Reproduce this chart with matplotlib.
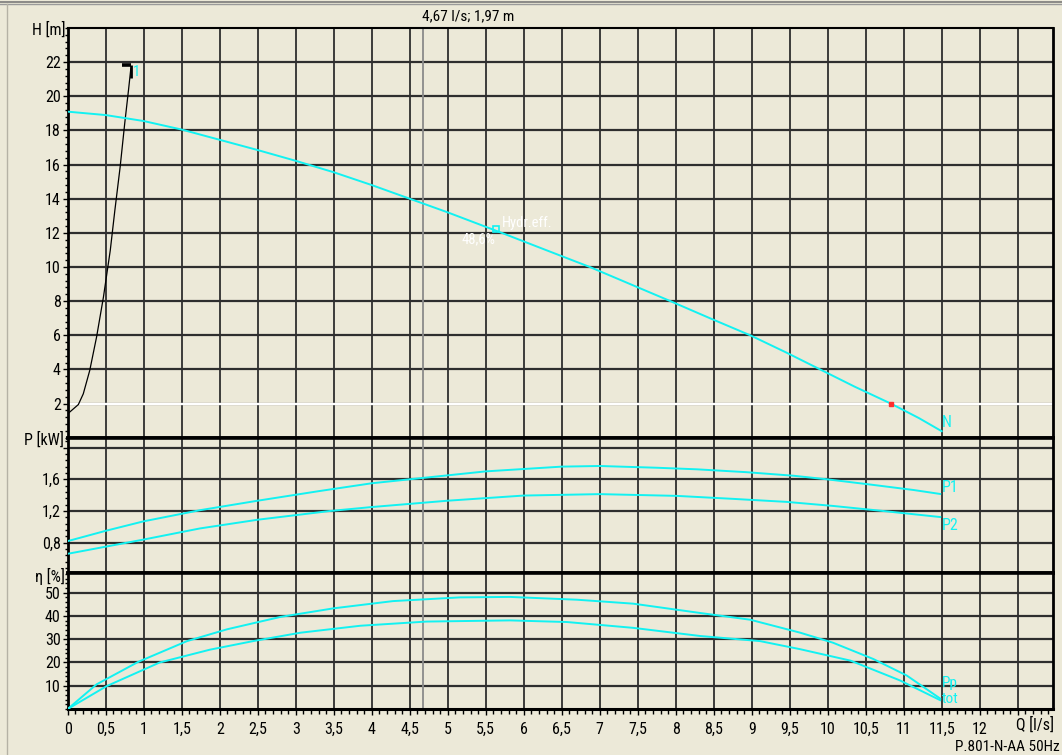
import matplotlib
matplotlib.use('Agg')
import matplotlib.pyplot as plt
from matplotlib.ticker import FixedLocator, MultipleLocator, FuncFormatter
from matplotlib import font_manager

# ---------------- data ----------------
q_head = [0.0, 0.5, 1.0, 1.5, 2.0, 2.5, 3.0, 3.5, 4.0, 4.5, 5.0, 5.71, 6.3, 6.87,
          7.4, 7.93, 8.45, 8.98, 9.45, 9.9, 10.35, 10.83, 11.2, 11.5]
head = [19.1, 18.9, 18.55, 18.05, 17.45, 16.85, 16.22, 15.55, 14.8, 14.0, 13.2, 12.0,
        10.98, 10.0, 9.0, 8.0, 7.0, 6.0, 5.0, 4.0, 3.0, 2.0, 1.15, 0.38]

q_sys = [0.0, 0.14, 0.205, 0.29, 0.38, 0.47, 0.56, 0.62, 0.69, 0.75, 0.80, 0.83]
h_sys = [1.40, 1.94, 2.57, 3.94, 5.9, 8.23, 10.97, 13.3, 15.86, 18.4, 20.36, 21.6]

q_p1 = [0.0, 0.5, 1.0, 1.74, 2.5, 3.3, 4.0, 4.5, 5.5, 6.5, 7.0, 7.75, 8.28, 8.93,
        9.55, 9.99, 10.51, 11.13, 11.48]
p1 = [0.82, 0.95, 1.07, 1.21, 1.33, 1.45, 1.55, 1.60, 1.70, 1.76, 1.768, 1.746,
      1.726, 1.69, 1.645, 1.60, 1.54, 1.465, 1.415]

q_p2 = [0.0, 0.5, 1.0, 1.74, 2.5, 3.45, 4.0, 5.0, 6.0, 7.0, 8.01, 8.76, 9.46,
        10.07, 10.73, 11.48]
p2 = [0.66, 0.75, 0.84, 0.98, 1.09, 1.20, 1.25, 1.33, 1.395, 1.413, 1.391, 1.353,
      1.315, 1.264, 1.20, 1.124]

q_pp = [0.0, 0.38, 0.93, 1.57, 2.1, 2.8, 3.5, 4.28, 5.16, 5.82, 6.70, 7.44, 8.32,
        8.98, 9.64, 10.07, 10.6, 11.04, 11.48]
eta_pp = [0.0, 10.6, 20.3, 29.2, 34.3, 39.6, 43.3, 46.4, 48.0, 48.2, 47.0, 45.3,
          41.3, 38.4, 32.8, 28.5, 21.5, 14.4, 4.5]

q_tot = [0.0, 0.51, 1.21, 1.87, 2.44, 3.06, 3.85, 4.72, 5.82, 6.57, 7.44, 8.32,
         9.11, 9.64, 10.3, 10.95, 11.48]
eta_tot = [0.0, 9.8, 20.0, 25.5, 29.2, 32.8, 35.8, 37.6, 38.1, 37.4, 34.9, 31.4,
           29.2, 25.7, 20.8, 12.3, 3.8]

cursor_q = 4.67
cursor_h = 1.97
duty_q = 5.64
duty_h = 12.24
duty_eff = "48,6%"
cross_q = 10.83

x_ticks = [0, 0.5, 1, 1.5, 2, 2.5, 3, 3.5, 4, 4.5, 5, 5.5, 6, 6.5, 7, 7.5, 8, 8.5,
           9, 9.5, 10, 10.5, 11, 11.5, 12, 12.5]
h_ticks = [2, 4, 6, 8, 10, 12, 14, 16, 18, 20, 22]
p_ticks = [0.8, 1.2, 1.6, 2.0]
eta_ticks = [10, 20, 30, 40, 50]

# ---------------- font ----------------
ttf = font_manager.fontManager.ttflist
names = {f.name for f in ttf}
FAM, STRETCH = 'Liberation Sans', 'normal'
for cand in ['Liberation Sans Narrow', 'Arial Narrow', 'Roboto Condensed',
             'Open Sans Condensed', 'DejaVu Sans Condensed']:
    if cand in names:
        FAM, STRETCH = cand, 'normal'
        break
else:
    for f in ttf:
        st = f.stretch if isinstance(f.stretch, str) else str(f.stretch)
        if f.style == 'normal' and st in ('condensed', 'semi-condensed', '75', '87.5') \
                and f.name in ('DejaVu Sans', 'Roboto', 'Open Sans', 'Noto Sans', 'Lato', 'Inter'):
            FAM, STRETCH = f.name, 'condensed'
            break
plt.rcParams['font.family'] = [FAM, 'DejaVu Sans']
plt.rcParams['font.stretch'] = STRETCH
NARROW = FAM != 'Liberation Sans'
FS = 11.5 if NARROW else 10.5

BG = '#ECE9D8'
CY = '#12F2F2'
GRID = '#2e2e2e'
W, H = 1062, 755

fig = plt.figure(figsize=(W / 100, H / 100), dpi=100, facecolor=BG)


def box(top, bottom):
    left, right = 67.7, 1053
    return [left / W, 1 - bottom / H, (right - left) / W, (bottom - top) / H]


ax_h = fig.add_axes(box(28, 437.7))
ax_p = fig.add_axes(box(437.7, 572.5))
ax_e = fig.add_axes(box(572.5, 709))

XMAX = (1053 - 67.7) / 76.0


def comma(v, pos=None):
    return ('%g' % v).replace('.', ',')


for ax in (ax_h, ax_p, ax_e):
    ax.set_facecolor(BG)
    ax.set_xlim(0, XMAX)
    ax.set_axisbelow(True)
    ax.xaxis.set_major_locator(FixedLocator(x_ticks))
    ax.xaxis.set_minor_locator(MultipleLocator(0.1))
    ax.grid(True, axis='x', which='major', color=GRID, lw=1.3)
    ax.grid(True, axis='y', which='major', color=GRID, lw=1.6)
    for s in ax.spines.values():
        s.set_color('black')
    ax.spines['left'].set_linewidth(2.0)
    ax.spines['right'].set_linewidth(2.0)
    ax.tick_params(axis='y', which='major', direction='out', length=3.5, width=1,
                   pad=1.5, labelsize=FS)
    ax.tick_params(axis='y', which='minor', direction='out', length=2.2, width=1)
    ax.axvline(cursor_q, color='#8a8a8a', lw=1.3, zorder=1.5)

for ax in (ax_h, ax_p):
    ax.tick_params(axis='x', which='both', bottom=False, labelbottom=False)

ax_e.tick_params(axis='x', which='major', direction='out', length=4, width=1,
                 pad=5, labelsize=FS)
ax_e.tick_params(axis='x', which='minor', direction='out', length=3.5, width=1)
ax_e.xaxis.set_major_formatter(FuncFormatter(lambda v, p: '' if v > 12.2 else comma(v)))

# --- H panel ---
ax_h.set_ylim(0, 24)
ax_h.yaxis.set_major_locator(FixedLocator(h_ticks))
ax_h.yaxis.set_minor_locator(MultipleLocator(0.4))
ax_h.yaxis.set_major_formatter(FuncFormatter(comma))
ax_h.spines['top'].set_linewidth(1.5)
ax_h.spines['bottom'].set_linewidth(2.6)

ax_h.axhline(cursor_h, color='white', lw=1.7, zorder=2)
ax_h.plot(q_sys, h_sys, color='black', lw=0.9, zorder=3)
ax_h.plot([0.71, 0.835], [21.85, 21.85], color='black', lw=2.6, solid_capstyle='butt', zorder=3)
ax_h.plot([0.83, 0.83], [21.85, 21.1], color='black', lw=2.0, solid_capstyle='butt', zorder=3)
ax_h.text(0.86, 21.4, '1', color=CY, fontsize=FS - 1, ha='left', va='center')

ax_h.plot(q_head, head, color=CY, lw=1.4, zorder=4)
ax_h.plot([cross_q], [cursor_h], marker='s', ms=2.5, color='#ff3030', mec='#ff3030', zorder=5)
ax_h.plot([duty_q], [duty_h], marker='s', ms=4, mfc='none', mec=CY, mew=1.2, zorder=5)
ax_h.text(duty_q + 0.07, 12.6, 'Hydr.eff.', color='white', fontsize=FS - 1, ha='left', va='center')
ax_h.text(duty_q - 0.01, 11.65, duty_eff, color='white', fontsize=FS - 1, ha='right', va='center')
ax_h.text(11.5, 0.9, 'N', color=CY, fontsize=FS, ha='left', va='center')

# --- P panel ---
ax_p.set_ylim(0.424, 2.125)
ax_p.yaxis.set_major_locator(FixedLocator(p_ticks))
ax_p.yaxis.set_minor_locator(MultipleLocator(0.08))
ax_p.yaxis.set_major_formatter(FuncFormatter(lambda v, p: '' if v > 1.9 else comma(v)))
ax_p.spines['top'].set_linewidth(2.6)
ax_p.spines['bottom'].set_linewidth(2.6)
ax_p.plot(q_p1, p1, color=CY, lw=1.4, zorder=4)
ax_p.plot(q_p2, p2, color=CY, lw=1.4, zorder=4)
ax_p.text(11.5, 1.50, 'P1', color=CY, fontsize=FS, ha='left', va='center')
ax_p.text(11.5, 1.02, 'P2', color=CY, fontsize=FS, ha='left', va='center')

# --- eta panel ---
ax_e.set_ylim(0, 58.7)
ax_e.yaxis.set_major_locator(FixedLocator(eta_ticks))
ax_e.yaxis.set_minor_locator(MultipleLocator(2))
ax_e.yaxis.set_major_formatter(FuncFormatter(comma))
ax_e.spines['top'].set_linewidth(2.6)
ax_e.spines['bottom'].set_linewidth(2.2)
ax_e.plot(q_pp, eta_pp, color=CY, lw=1.4, zorder=4)
ax_e.plot(q_tot, eta_tot, color=CY, lw=1.4, zorder=4)
ax_e.text(11.5, 11.2, 'Pp', color=CY, fontsize=FS - 0.5, ha='left', va='center')
ax_e.text(11.5, 4.3, 'tot', color=CY, fontsize=FS - 0.5, ha='left', va='center')


# --- figure texts ---
def ftext(x, y, s, **kw):
    fig.text(x / W, 1 - y / H, s, **kw)


ftext(65, 30, 'H [m]', ha='right', va='center', fontsize=FS)
ftext(64, 440, 'P [kW]', ha='right', va='center', fontsize=FS)
ftext(65, 576, 'η [%]', ha='right', va='center', fontsize=FS)
ftext(1054, 725, 'Q [l/s]', ha='right', va='center', fontsize=FS)
ftext(1060, 747, 'P.801-N-AA 50Hz', ha='right', va='center', fontsize=FS - 0.5)
ftext(422.5, 16.5, '%s l/s; %s m' % (comma(cursor_q), comma(cursor_h)),
      ha='left', va='center', fontsize=FS - 0.5)

# window chrome hints
fig.add_artist(plt.Line2D([0, 1], [1 - 1.5 / H, 1 - 1.5 / H], color='#7a7a7a', lw=1.2,
                          transform=fig.transFigure))
fig.add_artist(plt.Line2D([0, 1], [1 - 4 / H, 1 - 4 / H], color='#9a9a9a', lw=1.0,
                          transform=fig.transFigure))
fig.add_artist(plt.Line2D([7 / W, 7 / W], [0, 1 - 4 / H], color='#b5b2a5', lw=1.0,
                          transform=fig.transFigure))

fig.savefig('out.png', dpi=100, facecolor=BG)
